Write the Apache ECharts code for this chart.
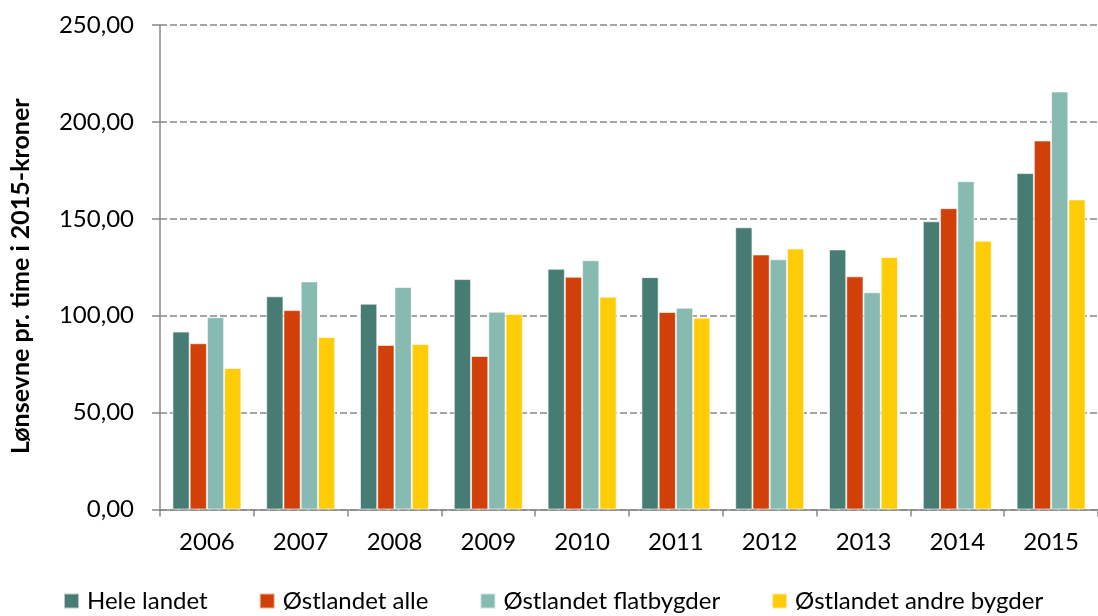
<!DOCTYPE html>
<html>
<head>
<meta charset="utf-8">
<script src="https://cdn.jsdelivr.net/npm/echarts@6/dist/echarts.min.js"></script>
<style>html,body{margin:0;padding:0;background:#fff}#c{width:1098px;height:616px}</style>
</head>
<body>
<div id="c"></div>
<script>
const categories = ['2006','2007','2008','2009','2010','2011','2012','2013','2014','2015'];
const seriesNames = ['Hele landet','Østlandet alle','Østlandet flatbygder','Østlandet andre bygder'];
const heleLandet = [91.8, 110.0, 106.2, 118.9, 124.2, 119.9, 145.6, 134.2, 148.7, 173.6];
const ostlandetAlle = [85.8, 102.9, 84.9, 79.2, 120.1, 101.9, 131.6, 120.3, 155.5, 190.4];
const ostlandetFlat = [99.2, 117.7, 114.8, 102.1, 128.6, 104.1, 129.1, 112.1, 169.4, 215.7];
const ostlandetAndre = [73.0, 89.0, 85.4, 100.9, 109.8, 99.0, 134.7, 130.3, 138.7, 160.0];
const colors = ['#467C73', '#D04008', '#87BAB1', '#FFCC08'];
const yTicks = {min: 0, max: 250, interval: 50};
const yTitle = 'Lønsevne pr. time i 2015-kroner';

const font = 'Lato, "Open Sans", sans-serif';
const dataSets = [heleLandet, ostlandetAlle, ostlandetFlat, ostlandetAndre];
const chart = echarts.init(document.getElementById('c'));
chart.setOption({
  animation: false,
  grid: {left: 155, top: 25, width: 954, height: 484.5, containLabel: false},
  legend: {
    left: 58, top: 584, itemWidth: 15, itemHeight: 15, itemGap: 51,
    icon: 'rect',
    textStyle: {fontFamily: font, fontSize: 24, color: '#000', padding: [0,0,0,3]},
    data: seriesNames
  },
  xAxis: {
    type: 'category', data: categories,
    axisLine: {lineStyle: {color: '#888', width: 1.5}},
    axisTick: {show: true, length: 7, lineStyle: {color: '#888', width: 1.5}},
    axisLabel: {fontFamily: font, fontSize: 24, color: '#000', margin: 21}
  },
  yAxis: {
    type: 'value', min: yTicks.min, max: yTicks.max, interval: yTicks.interval,
    name: yTitle, nameLocation: 'middle', nameGap: 127, nameRotate: 90,
    nameTextStyle: {fontFamily: font, fontSize: 25, fontWeight: 'bold', color: '#000', padding: [0, 18, 0, 0]},
    axisLine: {show: true, lineStyle: {color: '#888', width: 1.5}},
    axisTick: {show: true, length: 8, lineStyle: {color: '#888', width: 1.5}},
    axisLabel: {fontFamily: font, fontSize: 24, color: '#000', margin: 26,
      formatter: v => v.toFixed(2).replace('.', ',')},
    splitLine: {lineStyle: {color: '#888', width: 1.5, type: [7, 3]}}
  },
  series: seriesNames.map((n, i) => ({
    name: n, type: 'bar', data: dataSets[i],
    barWidth: 17.25, barGap: '0%',
    itemStyle: {color: colors[i], borderColor: 'rgba(255,255,255,0.6)', borderWidth: 1}
  }))
});
</script>
</body>
</html>
